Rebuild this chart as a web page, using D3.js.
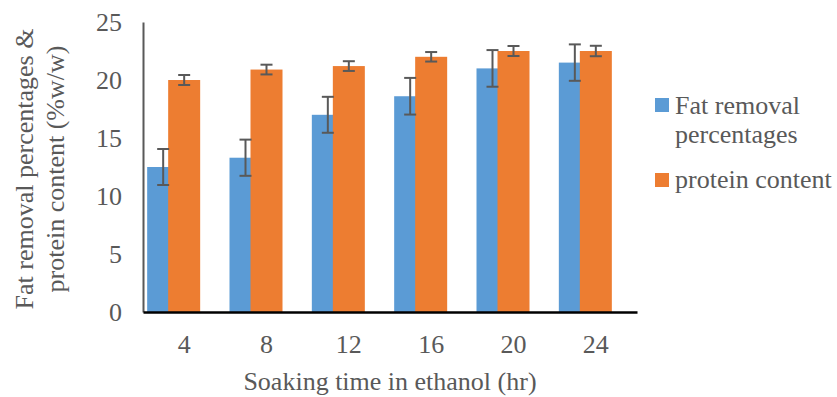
<!DOCTYPE html>
<html>
<head>
<meta charset="utf-8">
<script src="https://cdn.jsdelivr.net/npm/d3@7"></script>
<style>
  body { margin: 0; background: #fff; }
</style>
</head>
<body>
<div id="root"></div>
<script>
const hours = ['4', '8', '12', '16', '20', '24'];
const fatRemoval = [12.5, 13.3, 17.0, 18.6, 21.0, 21.5];
const fatErr = [1.55, 1.56, 1.55, 1.58, 1.58, 1.57];
const protein = [20.0, 20.9, 21.2, 22.0, 22.5, 22.5];
const proteinErr = [0.43, 0.42, 0.42, 0.41, 0.43, 0.45];
const yTicks = [0, 5, 10, 15, 20, 25];

const width = 837, height = 397;
const margin = { left: 143, right: 200, top: 22, bottom: 85 };
const FONT = 'Liberation Serif';
const FS = 26;
const TXT = '#595959';

const svg = d3.select('#root').append('svg')
  .attr('width', width)
  .attr('height', height)
  .attr('font-family', FONT);

const x = d3.scaleBand()
  .domain(hours)
  .range([margin.left, width - margin.right]);

const y = d3.scaleLinear()
  .domain([0, 25])
  .range([height - margin.bottom, margin.top]);

const barW = 32;
const colors = { fat: '#5B9BD5', protein: '#ED7D31' };

// blue bar sits 21px to the left of the orange one, partly covered
const center = d => x(d) + x.bandwidth() / 2;

svg.append('g').selectAll('rect')
  .data(hours)
  .join('rect')
  .attr('x', (d) => center(d) - 16 - 21)
  .attr('y', (d, i) => y(fatRemoval[i]))
  .attr('width', barW)
  .attr('height', (d, i) => y(0) - y(fatRemoval[i]))
  .attr('fill', colors.fat);

svg.append('g').selectAll('rect')
  .data(hours)
  .join('rect')
  .attr('x', (d) => center(d) - 16)
  .attr('y', (d, i) => y(protein[i]))
  .attr('width', barW)
  .attr('height', (d, i) => y(0) - y(protein[i]))
  .attr('fill', colors.protein);

function errorBars(vals, errs, dx) {
  const g = svg.append('g')
    .attr('stroke', '#595959')
    .attr('stroke-width', 2);
  hours.forEach((h, i) => {
    const cx = center(h) + dx;
    const lo = y(vals[i] - errs[i]);
    const hi = y(vals[i] + errs[i]);
    g.append('line').attr('x1', cx).attr('x2', cx).attr('y1', lo).attr('y2', hi);
    g.append('line').attr('x1', cx - 6).attr('x2', cx + 6).attr('y1', lo).attr('y2', lo);
    g.append('line').attr('x1', cx - 6).attr('x2', cx + 6).attr('y1', hi).attr('y2', hi);
  });
}
errorBars(fatRemoval, fatErr, -21);
errorBars(protein, proteinErr, 0);

// y axis
const yAxis = svg.append('g')
  .attr('transform', `translate(${margin.left},0)`)
  .call(d3.axisLeft(y).tickValues(yTicks).tickSize(0).tickPadding(21))
  .attr('font-family', FONT)
  .attr('font-size', FS);
yAxis.select('.domain').attr('stroke', '#595959').attr('stroke-width', 2);
yAxis.selectAll('text').attr('fill', TXT);

// x axis
const xAxis = svg.append('g')
  .attr('transform', `translate(0,${y(0)})`)
  .call(d3.axisBottom(x).tickSize(0).tickPadding(23))
  .attr('font-family', FONT)
  .attr('font-size', FS);
xAxis.select('.domain').attr('stroke', '#000').attr('stroke-width', 2.5);
xAxis.selectAll('text').attr('fill', TXT);

svg.append('text')
  .attr('x', 390)
  .attr('y', 390)
  .attr('text-anchor', 'middle')
  .attr('font-size', FS)
  .attr('fill', TXT)
  .text('Soaking time in ethanol (hr)');

const yTitle = svg.append('text')
  .attr('transform', `translate(0,${(y(0) + y(25)) / 2 + 2}) rotate(-90)`)
  .attr('text-anchor', 'middle')
  .attr('font-size', FS)
  .attr('fill', TXT);
yTitle.append('tspan').attr('x', 0).attr('y', 33).text('Fat removal percentages &');
yTitle.append('tspan').attr('x', 0).attr('y', 64).text('protein content (%w/w)');

// legend
const legend = svg.append('g').attr('font-size', FS).attr('fill', TXT);
legend.append('rect').attr('x', 655).attr('y', 98).attr('width', 14).attr('height', 14).attr('fill', colors.fat);
legend.append('rect').attr('x', 655).attr('y', 173).attr('width', 14).attr('height', 14).attr('fill', colors.protein);
const l1 = legend.append('text');
l1.append('tspan').attr('x', 675).attr('y', 114).text('Fat removal');
l1.append('tspan').attr('x', 675).attr('y', 143).text('percentages');
legend.append('text').attr('x', 675).attr('y', 188).text('protein content');
</script>
</body>
</html>
